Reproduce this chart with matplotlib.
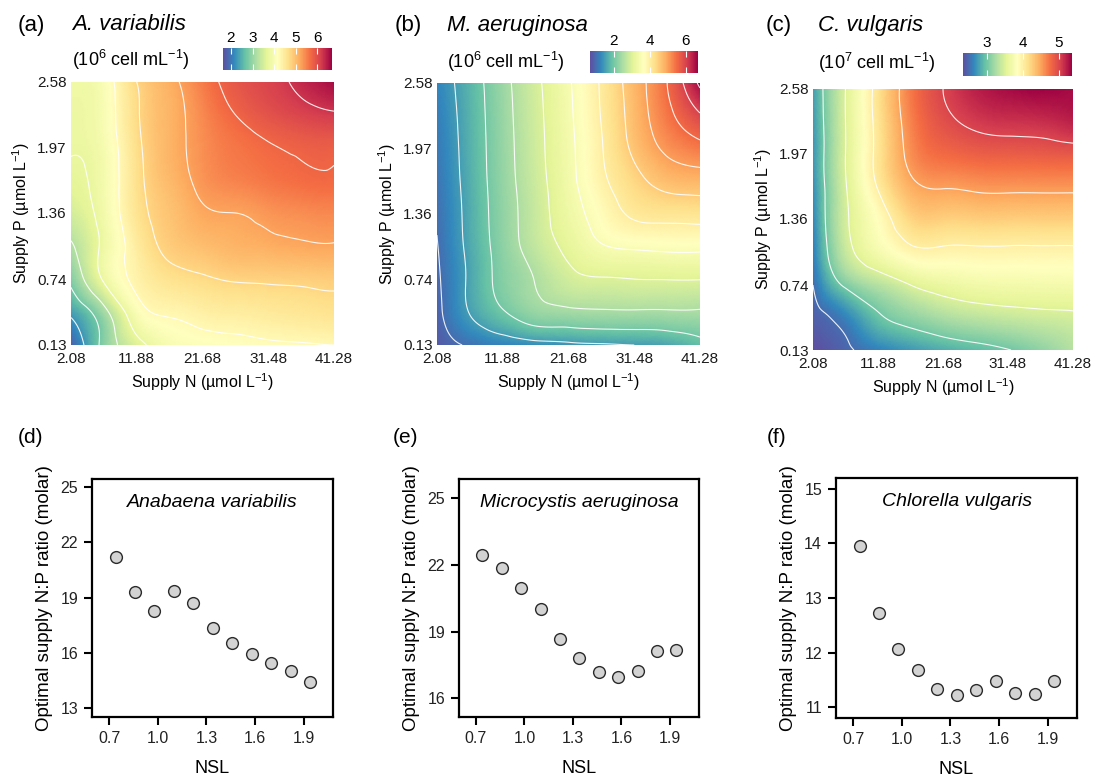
import numpy as np
import matplotlib
matplotlib.use("Agg")
import matplotlib.pyplot as plt
import matplotlib.tri as mtri
from matplotlib.colors import Normalize
from matplotlib.cm import ScalarMappable

plt.rcParams['font.family'] = ['Liberation Sans', 'DejaVu Sans']
plt.rcParams['mathtext.fontset'] = 'custom'
plt.rcParams['mathtext.rm'] = 'Liberation Sans'
plt.rcParams['mathtext.it'] = 'Liberation Sans:italic'

# ---- response surfaces: cell density on a supply N x supply P grid ----
supply_n = [2.08, 6.98, 11.88, 16.78, 21.68, 26.58, 31.48, 36.38, 41.28]
supply_p = [0.13, 0.436, 0.74, 1.05, 1.36, 1.665, 1.97, 2.275, 2.58]
n_ticks = [2.08, 11.88, 21.68, 31.48, 41.28]
p_ticks = [0.13, 0.74, 1.36, 1.97, 2.58]

# rows follow supply_p (low -> high), columns follow supply_n
density_av = [
    [1.80, 2.90, 3.60, 4.00, 4.10, 4.15, 4.20, 4.22, 4.25],
    [2.35, 3.10, 4.05, 4.30, 4.40, 4.45, 4.50, 4.55, 4.60],
    [2.85, 3.80, 4.35, 4.60, 4.70, 4.78, 4.80, 4.82, 4.85],
    [3.20, 3.85, 4.45, 4.85, 5.00, 5.10, 5.15, 5.20, 5.22],
    [3.50, 3.92, 4.58, 4.95, 5.20, 5.25, 5.35, 5.42, 5.45],
    [3.68, 3.95, 4.62, 5.05, 5.35, 5.50, 5.60, 5.68, 5.70],
    [3.78, 3.98, 4.65, 5.10, 5.40, 5.60, 5.72, 5.80, 5.82],
    [3.80, 4.02, 4.70, 5.10, 5.45, 5.75, 5.95, 6.10, 6.20],
    [3.85, 4.05, 4.75, 5.15, 5.55, 5.90, 6.10, 6.35, 6.60],
]
density_ma = [
    [0.80, 1.05, 1.22, 1.33, 1.40, 1.45, 1.50, 1.58, 1.85],
    [0.88, 1.52, 1.96, 2.31, 2.40, 2.44, 2.45, 2.45, 2.45],
    [0.93, 1.58, 2.15, 2.52, 2.86, 2.96, 2.99, 3.00, 3.00],
    [0.98, 1.62, 2.22, 2.72, 3.12, 3.46, 3.56, 3.60, 3.60],
    [1.03, 1.65, 2.25, 2.78, 3.28, 3.72, 4.08, 4.16, 4.19],
    [1.08, 1.68, 2.28, 2.82, 3.36, 3.90, 4.35, 4.68, 4.76],
    [1.13, 1.70, 2.30, 2.85, 3.39, 3.97, 4.60, 5.09, 5.35],
    [1.18, 1.72, 2.32, 2.87, 3.42, 4.02, 4.70, 5.36, 5.95],
    [1.25, 1.75, 2.35, 2.90, 3.45, 4.05, 4.75, 5.50, 6.60],
]
density_cv = [
    [2.33, 2.46, 2.60, 2.72, 2.82, 2.90, 2.99, 3.12, 3.30],
    [2.42, 2.62, 2.95, 3.12, 3.25, 3.33, 3.38, 3.42, 3.45],
    [2.50, 3.05, 3.30, 3.50, 3.62, 3.68, 3.70, 3.71, 3.72],
    [2.58, 3.38, 3.72, 3.93, 3.95, 3.95, 3.95, 3.95, 3.95],
    [2.63, 3.45, 3.85, 4.20, 4.24, 4.25, 4.25, 4.25, 4.25],
    [2.67, 3.48, 4.02, 4.43, 4.52, 4.55, 4.56, 4.56, 4.56],
    [2.70, 3.50, 4.08, 4.58, 4.77, 4.83, 4.85, 4.86, 4.88],
    [2.73, 3.50, 4.09, 4.64, 4.93, 5.06, 5.11, 5.13, 5.20],
    [2.75, 3.50, 4.10, 4.68, 5.00, 5.20, 5.30, 5.35, 5.30],
]

surface_species = ["A. variabilis", "M. aeruginosa", "C. vulgaris"]
surface_units = ["(10$^{6}$ cell mL$^{-1}$)", "(10$^{6}$ cell mL$^{-1}$)",
                 "(10$^{7}$ cell mL$^{-1}$)"]
color_ranges = [(1.63, 6.69), (0.67, 6.67), (2.33, 5.36)]
colorbar_ticks = [[2, 3, 4, 5, 6], [2, 4, 6], [3, 4, 5]]
contour_levels = [np.arange(2.25, 6.3, 0.5), np.arange(1.0, 6.6, 0.5),
                  np.arange(2.5, 5.1, 0.5)]

# ---- optimal supply N:P ratio versus NSL ----
nsl = [0.74, 0.86, 0.98, 1.10, 1.22, 1.34, 1.46, 1.58, 1.70, 1.82, 1.94]
ratio_av = [21.20, 19.28, 18.27, 19.37, 18.70, 17.36, 16.53, 15.95, 15.46, 14.99, 14.43]
ratio_ma = [22.44, 21.84, 20.94, 20.02, 18.67, 17.80, 17.19, 16.96, 17.20, 18.12, 18.15]
ratio_cv = [13.95, 12.72, 12.06, 11.68, 11.34, 11.23, 11.32, 11.47, 11.26, 11.24, 11.48]
nsl_ticks = [0.7, 1.0, 1.3, 1.6, 1.9]
ratio_ticks = [[13, 16, 19, 22, 25], [16, 19, 22, 25], [11, 12, 13, 14, 15]]
ratio_limits = [(12.5, 25.45), (15.15, 25.87), (10.8, 15.2)]
scatter_species = ["Anabaena variabilis", "Microcystis aeruginosa", "Chlorella vulgaris"]

W, H = 1095, 781
fig = plt.figure(figsize=(W / 100, H / 100), dpi=100)


def box(x0, y0, x1, y1):
    """Pixel box (top-left origin) -> figure fraction rect."""
    return [x0 / W, 1 - y1 / H, (x1 - x0) / W, (y1 - y0) / H]


surface_boxes = [(71, 82, 334, 345), (437, 83, 700, 345), (813, 89, 1073, 350)]
cbar_boxes = [(223, 48, 332, 70), (590, 51, 698, 73), (963, 53, 1072, 76)]
panel_x = [18, 395, 766]
title_x = [72, 447, 818]
units_y = [60, 62, 63]

nn, pp = np.meshgrid(supply_n, supply_p)
tri = mtri.Triangulation(nn.ravel(), pp.ravel())
refiner = mtri.UniformTriRefiner(tri)
cmap = plt.get_cmap("Spectral_r")

surfaces = [density_av, density_ma, density_cv]
for i, z in enumerate(surfaces):
    z = np.asarray(z, dtype=float)
    ax = fig.add_axes(box(*surface_boxes[i]))
    norm = Normalize(*color_ranges[i])
    fine_tri, fine_z = refiner.refine_field(z.ravel(), subdiv=4)
    ax.tripcolor(fine_tri, fine_z, shading="gouraud", cmap=cmap, norm=norm)
    ax.tricontour(fine_tri, fine_z, levels=contour_levels[i], colors="white",
                  linewidths=0.8, alpha=0.9)
    ax.set_xlim(supply_n[0], supply_n[-1])
    ax.set_ylim(supply_p[0], supply_p[-1])
    ax.set_xticks(n_ticks)
    ax.set_xticklabels([f"{v:.2f}" for v in n_ticks])
    ax.set_yticks(p_ticks)
    ax.set_yticklabels([f"{v:.2f}" for v in p_ticks])
    ax.tick_params(axis="x", length=0, labelsize=11, pad=5, colors="#1a1a1a")
    ax.tick_params(axis="y", length=0, labelsize=11, pad=3, colors="#1a1a1a")
    for lbl in ax.get_yticklabels():
        lbl.set_verticalalignment("center_baseline")
    for s in ax.spines.values():
        s.set_visible(False)
    ax.set_xlabel("Supply N (µmol L$^{-1}$)", fontsize=11.5, labelpad=4)
    ax.set_ylabel("Supply P (µmol L$^{-1}$)", fontsize=11.5, labelpad=4)

    cax = fig.add_axes(box(*cbar_boxes[i]))
    cb = fig.colorbar(ScalarMappable(norm=norm, cmap=cmap), cax=cax,
                      orientation="horizontal", ticks=colorbar_ticks[i])
    cb.outline.set_visible(False)
    cax.tick_params(axis="x", which="major", top=True, bottom=True,
                    labeltop=True, labelbottom=False, direction="in",
                    color="white", length=4, width=0.8, labelsize=11, pad=2)

    fig.text(panel_x[i] / W, 1 - 25 / H, f"({'abc'[i]})", fontsize=16,
             va="center", ha="left")
    fig.text(title_x[i] / W, 1 - 25 / H, surface_species[i], fontsize=16,
             style="italic", va="center", ha="left")
    fig.text(title_x[i] / W, 1 - units_y[i] / H, surface_units[i], fontsize=13,
             va="center", ha="left")

scatter_boxes = [(92, 479, 333, 717), (459, 479, 699, 717), (836, 478, 1077, 718)]
scatter_panel_x = [18, 393, 767]
ratios = [ratio_av, ratio_ma, ratio_cv]
for i, r in enumerate(ratios):
    ax = fig.add_axes(box(*scatter_boxes[i]))
    ax.scatter(nsl, r, s=72, facecolor="#d3d3d3", edgecolor="#2a2a2a",
               linewidth=1.0, zorder=3)
    ax.set_xlim(0.595, 2.08)
    ax.set_ylim(*ratio_limits[i])
    ax.set_xticks(nsl_ticks)
    ax.set_xticklabels([f"{v:.1f}" for v in nsl_ticks])
    ax.set_yticks(ratio_ticks[i])
    for s in ax.spines.values():
        s.set_linewidth(1.6)
    ax.tick_params(direction="out", length=6, width=1.5, labelsize=11.5,
                   pad=4, labelcolor="#222222")
    ax.set_xlabel("NSL", fontsize=13, labelpad=10)
    ax.set_ylabel("Optimal supply N:P ratio (molar)", fontsize=13.5, labelpad=5)
    ax.text(0.5, 0.90, scatter_species[i], transform=ax.transAxes,
            ha="center", va="center", fontsize=14, style="italic")
    fig.text(scatter_panel_x[i] / W, 1 - 437 / H, f"({'def'[i]})", fontsize=15,
             va="center", ha="left")

fig.savefig("out.png", dpi=100)
